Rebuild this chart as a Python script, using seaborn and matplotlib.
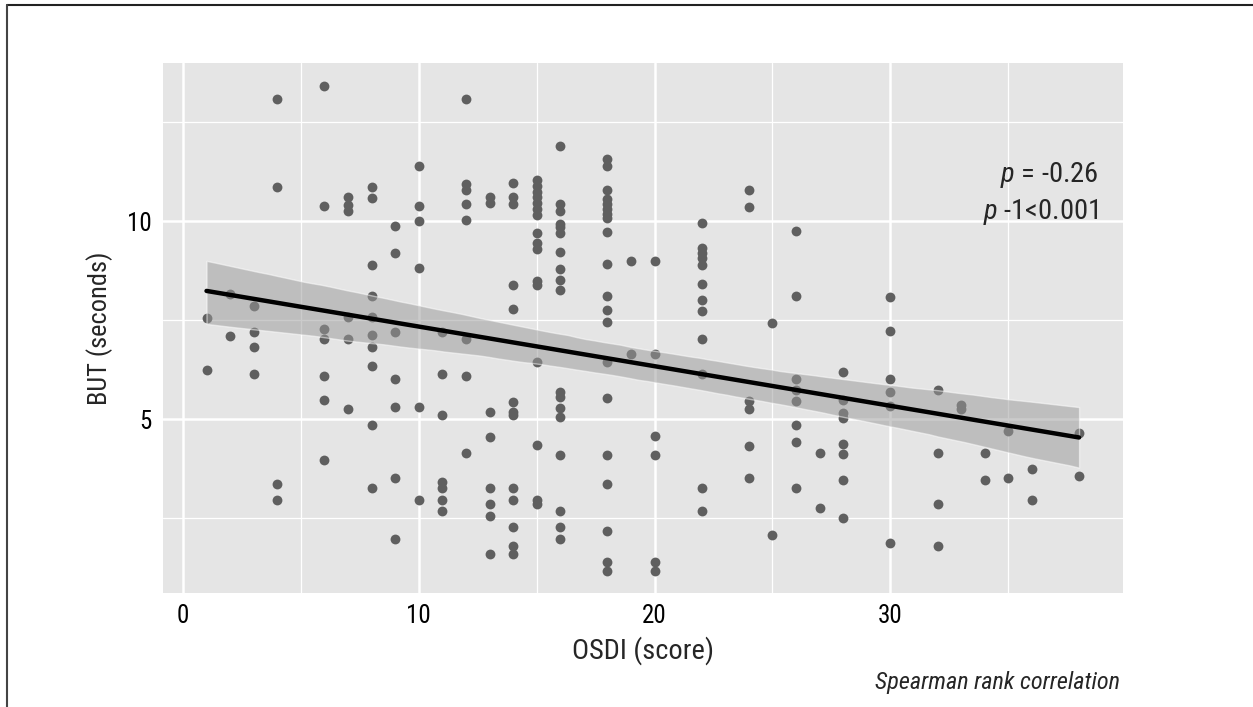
import numpy as np
import pandas as pd
import matplotlib.pyplot as plt
import seaborn as sns
from matplotlib import font_manager
from matplotlib.lines import Line2D
from matplotlib.ticker import MultipleLocator

sns.set_style('darkgrid')

# pick a narrow font if one is around, otherwise fall back
installed = {f.name for f in font_manager.fontManager.ttflist}
narrow = [n for n in ['Liberation Sans Narrow', 'DejaVu Sans Condensed', 'Roboto Condensed',
                      'Open Sans Condensed', 'Noto Sans Condensed', 'Noto Sans Display Condensed']
          if n in installed]
cond_faces = [f for f in font_manager.fontManager.ttflist
              if f.stretch in ('condensed', 'semi-condensed', 'extra-condensed')
              or (isinstance(f.stretch, int) and f.stretch < 500)]
if narrow:
    base = narrow[0]
    plt.rcParams['font.family'] = [base, 'DejaVu Sans']
elif cond_faces:
    base = cond_faces[0].name
    plt.rcParams['font.family'] = [base, 'DejaVu Sans']
    plt.rcParams['font.stretch'] = 'condensed'
else:
    base = 'DejaVu Sans'
    plt.rcParams['font.family'] = ['DejaVu Sans']
plt.rcParams['mathtext.fontset'] = 'custom'
plt.rcParams['mathtext.it'] = base + ':italic'
plt.rcParams['mathtext.rm'] = base

# OSDI score (x) and break-up time in seconds (y), grouped by OSDI value
osdi = ([1] * 2 + [2] * 2 + [3] * 4 + [4] * 4 + [6] * 7 + [7] * 6 + [8] * 10 + [9] * 7
        + [10] * 6 + [11] * 7 + [12] * 8 + [13] * 8 + [14] * 13 + [15] * 16 + [16] * 18
        + [18] * 20 + [19] * 2 + [20] * 6 + [22] * 12 + [24] * 6 + [25] * 2 + [26] * 8
        + [27] * 2 + [28] * 8 + [30] * 6 + [32] * 4 + [33] * 2 + [34] * 2 + [35] * 2
        + [36] * 2 + [38] * 2)
but = [7.55, 6.23,
       8.15, 7.1,
       7.85, 7.2, 6.83, 6.15,
       13.08, 10.87, 3.36, 2.96,
       13.41, 10.39, 7.27, 7.03, 6.09, 5.48, 3.96,
       10.6, 10.4, 10.27, 7.58, 7.02, 5.25,
       10.87, 10.58, 8.9, 8.1, 7.58, 7.12, 6.83, 6.33, 4.84, 3.25,
       9.88, 9.2, 7.2, 6.0, 5.3, 3.5, 1.97,
       11.39, 10.39, 10.0, 8.83, 5.3, 2.96,
       7.2, 6.13, 5.1, 3.4, 3.25, 2.95, 2.67,
       13.08, 10.95, 10.8, 10.43, 10.04, 7.02, 6.08, 4.15,
       10.6, 10.45, 5.17, 4.54, 3.25, 2.86, 2.56, 1.58,
       10.96, 10.6, 10.43, 8.4, 7.79, 5.44, 5.17, 5.09, 3.25, 2.96, 2.26, 1.78, 1.58,
       11.05, 10.9, 10.75, 10.6, 10.45, 10.3, 10.15, 9.7, 9.45, 9.3, 8.5, 8.4, 6.43, 4.35, 2.95, 2.85,
       11.9, 10.43, 10.27, 9.94, 9.86, 9.7, 9.22, 8.8, 8.52, 8.27, 5.69, 5.57, 5.27, 5.06, 4.1, 2.67, 2.27, 1.97,
       11.57, 11.4, 10.78, 10.57, 10.44, 10.32, 10.19, 10.07, 9.73, 8.92, 8.11, 7.75, 7.46, 6.43, 5.54, 4.1, 3.36, 2.17, 1.38, 1.17,
       9.0, 6.65,
       9.0, 6.65, 4.56, 4.08, 1.38, 1.17,
       9.96, 9.32, 9.19, 9.07, 8.9, 8.42, 8.02, 7.72, 7.02, 6.13, 3.25, 2.67,
       10.8, 10.36, 5.45, 5.25, 4.33, 3.5,
       7.42, 2.06,
       9.75, 8.12, 6.02, 5.73, 5.46, 4.84, 4.42, 3.25,
       4.14, 2.76,
       6.19, 5.48, 5.15, 5.02, 4.36, 4.11, 3.47, 2.51,
       8.09, 7.23, 6.02, 5.69, 5.34, 1.86,
       5.73, 4.15, 2.86, 1.78,
       5.35, 5.25,
       4.15, 3.46,
       4.71, 3.5,
       3.75, 2.96,
       4.65, 3.55]

data = pd.DataFrame({'OSDI': osdi, 'BUT': but})

fig = plt.figure(figsize=(12.53, 7.07), dpi=100)
ax = fig.add_axes([0.130, 0.161, 0.766, 0.750])
ax.set_facecolor('#E5E5E5')

sns.regplot(x='OSDI', y='BUT', data=data, ax=ax, ci=95, seed=3,
            scatter_kws={'s': 50, 'color': '#5F5F5F', 'alpha': 1, 'linewidths': 0, 'zorder': 3},
            line_kws={'color': 'black', 'linewidth': 3.2, 'zorder': 5})
# confidence band in ggplot grey
for coll in ax.collections[1:]:
    coll.set_facecolor('#999999')
    coll.set_alpha(0.5)
    coll.set_zorder(4)

ax.set_xlim(-0.85, 39.85)
ax.set_ylim(0.6, 14.0)
ax.xaxis.set_major_locator(MultipleLocator(10))
ax.xaxis.set_minor_locator(MultipleLocator(5))
ax.set_yticks([5, 10])
ax.set_yticks([2.5, 7.5, 12.5], minor=True)
ax.grid(which='major', color='white', linewidth=1.8)
ax.grid(which='minor', color='white', linewidth=0.9)
ax.set_axisbelow(True)
for s in ax.spines.values():
    s.set_visible(False)
ax.tick_params(axis='both', which='major', length=4, width=1, color='#333333',
               labelsize=18, pad=4, labelcolor='black')
ax.tick_params(axis='both', which='minor', length=0)

ax.set_xlabel('OSDI (score)', fontsize=20.5, labelpad=6)
ax.set_ylabel('BUT (seconds)', fontsize=19, labelpad=10)

ax.text(0.975, 0.775, r'$\it{p}$ = -0.26', transform=ax.transAxes, ha='right',
        va='baseline', fontsize=20.5)
ax.text(0.975, 0.705, r'$\it{p}$ -1<0.001', transform=ax.transAxes, ha='right',
        va='baseline', fontsize=20.5)
fig.text(0.894, 0.025, 'Spearman rank correlation', ha='right', va='baseline',
         fontsize=17.5, style='italic')

# figure frame (top and left edges)
fig.add_artist(Line2D([0.0055, 1.0], [0.993, 0.993], transform=fig.transFigure,
                      color='#222222', linewidth=1.5))
fig.add_artist(Line2D([0.0055, 0.0055], [0.0, 0.993], transform=fig.transFigure,
                      color='#444444', linewidth=1.5))

fig.savefig('out.png', dpi=100, facecolor='white')
